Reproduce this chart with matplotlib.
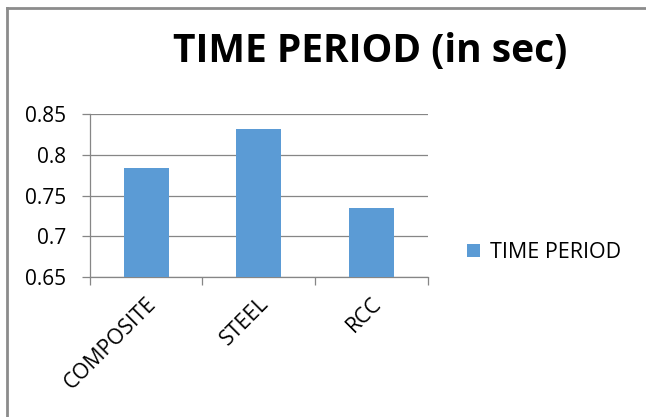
import numpy as np
import matplotlib.pyplot as plt
from matplotlib.lines import Line2D

categories = ["COMPOSITE", "STEEL", "RCC"]
time_period = [0.784, 0.832, 0.735]
series_name = "TIME PERIOD"
y_ticks = [0.65, 0.7, 0.75, 0.8, 0.85]
y_tick_labels = ["0.65", "0.7", "0.75", "0.8", "0.85"]

BAR_COLOR = "#5b9bd5"
GRID_COLOR = "#868686"

plt.rcParams["font.family"] = ["Open Sans", "DejaVu Sans"]

fig = plt.figure(figsize=(6.46, 4.17), dpi=100)
ax = fig.add_axes([0.139, 0.336, 0.523, 0.39])

x = np.arange(len(categories))
ax.bar(x, time_period, width=0.4, color=BAR_COLOR, label=series_name, zorder=3)

ax.set_xlim(-0.5, len(categories) - 0.5)
ax.set_ylim(0.65, 0.85)
ax.set_yticks(y_ticks)
ax.set_yticklabels(y_tick_labels, fontsize=15)
ax.yaxis.grid(True, color=GRID_COLOR, linewidth=0.9, zorder=0)

ax.set_xticks(x)
ax.set_xticklabels(categories, fontsize=15.5, rotation=45, ha="right",
                   rotation_mode="anchor")
ax.set_xticks(np.arange(-0.5, len(categories)), minor=True)
ax.tick_params(axis="x", which="major", length=0, pad=12)
ax.tick_params(axis="x", which="minor", length=6, color=GRID_COLOR, width=0.9)
ax.tick_params(axis="y", length=6, color=GRID_COLOR, width=0.9, pad=11)

for side in ["top", "right"]:
    ax.spines[side].set_visible(False)
for side in ["left", "bottom"]:
    ax.spines[side].set_color(GRID_COLOR)
    ax.spines[side].set_linewidth(0.9)

fig.text(0.573, 0.876, "TIME PERIOD (in sec)", fontsize=28, fontweight="bold",
         ha="center", va="center")

ax.legend(loc="center left", bbox_to_anchor=(1.06, 0.15), frameon=False,
          fontsize=15.5, handlelength=0.6, handleheight=0.6, handletextpad=0.45)

# outer frame: only the left and top edges show
frame_kw = dict(transform=fig.transFigure, color="#8c8c8c", linewidth=2)
fig.add_artist(Line2D([0.0105, 0.0105], [0.0, 0.98], **frame_kw))
fig.add_artist(Line2D([0.0105, 1.0], [0.98, 0.98], **frame_kw))

fig.savefig("out.png", dpi=100)
